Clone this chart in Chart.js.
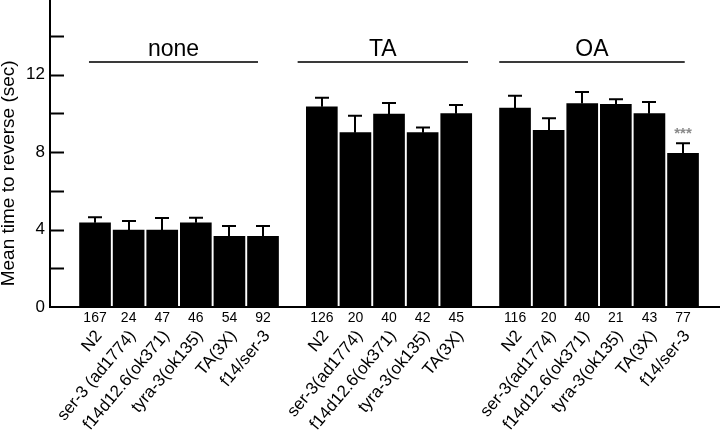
<!DOCTYPE html>
<html>
<head>
<meta charset="utf-8">
<script src="https://cdn.jsdelivr.net/npm/chart.js@4/dist/chart.umd.min.js"></script>
<style>
  html, body { margin: 0; padding: 0; background: #fff; }
  #wrap { width: 720px; height: 443px; }
</style>
</head>
<body>
<div id="wrap"><canvas id="chart" width="720" height="443"></canvas></div>
<script>
// treatment groups and the strains in each
const groups = ['none', 'TA', 'OA'];
const strains = [
    ['N2', 'ser-3 (ad1774)', 'f14d12.6(ok371)', 'tyra-3(ok135)', 'TA(3X)', 'f14/ser-3'],
    ['N2', 'ser-3(ad1774)', 'f14d12.6(ok371)', 'tyra-3(ok135)', 'TA(3X)'],
    ['N2', 'ser-3(ad1774)', 'f14d12.6(ok371)', 'tyra-3(ok135)', 'TA(3X)', 'f14/ser-3'],
];
const counts = [
    [167, 24, 47, 46, 54, 92],
    [126, 20, 40, 42, 45],
    [116, 20, 40, 21, 43, 77],
];
const means = [
    [4.35, 3.97, 3.97, 4.35, 3.65, 3.65],
    [10.34, 9.0, 9.96, 9.0, 9.98],
    [10.27, 9.12, 10.5, 10.46, 9.98, 7.93],
];
const errors = [
    [0.28, 0.47, 0.62, 0.26, 0.53, 0.53],
    [0.46, 0.88, 0.57, 0.27, 0.45],
    [0.64, 0.62, 0.6, 0.26, 0.6, 0.52],
];
const stars = [
    ['', '', '', '', '', ''],
    ['', '', '', '', ''],
    ['', '', '', '', '', '***'],
];
const yLabels = [0, 4, 8, 12];
const yTicks = [0, 2, 4, 6, 8, 10, 12, 14];
const yTitle = 'Mean time to reverse (sec)';

const GROUP_GAP = 0.75;   // extra space between groups, in bar slots
const FONT = '"Liberation Sans", Arial, sans-serif';

// flatten into bar points, with the slot position of each bar
var points = [], meta = [];
var idx = 0;
groups.forEach(function(g, gi) {
    strains[gi].forEach(function(s, si) {
        var x = idx + gi * GROUP_GAP;
        points.push({x: x, y: means[gi][si]});
        meta.push({x: x, name: s, n: counts[gi][si], err: errors[gi][si],
                   star: stars[gi][si], mean: means[gi][si]});
        idx++;
    });
});

const bracketPad = [[-0.18, -0.15], [-0.72, 0.35], [-0.47, 0.05]];

const annotations = {
    id: 'annotations',
    afterDatasetsDraw(chart) {
        const ctx = chart.ctx, xs = chart.scales.x, ys = chart.scales.y;
        const area = chart.chartArea;
        ctx.save();
        ctx.strokeStyle = '#000';
        ctx.fillStyle = '#000';

        // inward y tick marks
        ctx.lineWidth = 2;
        yTicks.forEach(function(v) {
            if (v === 0) return;
            var py = Math.round(ys.getPixelForValue(v)) + 0.5;
            ctx.beginPath();
            ctx.moveTo(area.left, py);
            ctx.lineTo(area.left + 14, py);
            ctx.stroke();
        });

        // y title, sits a bit below the middle of the axis
        ctx.save();
        ctx.translate(9, ys.getPixelForValue(6.9));
        ctx.rotate(-Math.PI / 2);
        ctx.font = '19px ' + FONT;
        ctx.textAlign = 'center';
        ctx.textBaseline = 'middle';
        ctx.fillText(yTitle, 0, 0);
        ctx.restore();

        // error bars (upper half only) and star marks
        meta.forEach(function(m) {
            var px = Math.round(xs.getPixelForValue(m.x));
            var top = ys.getPixelForValue(m.mean + m.err);
            var base = ys.getPixelForValue(m.mean);
            ctx.lineWidth = 2;
            ctx.beginPath();
            ctx.moveTo(px, base);
            ctx.lineTo(px, top);
            ctx.moveTo(px - 7, top);
            ctx.lineTo(px + 7, top);
            ctx.stroke();
            if (m.star) {
                ctx.fillStyle = '#8a8a8a';
                ctx.font = 'bold 15px ' + FONT;
                ctx.textAlign = 'center';
                ctx.textBaseline = 'alphabetic';
                ctx.fillText(m.star, px, top - 5);
                ctx.fillStyle = '#000';
            }
        });

        // n counts and rotated strain names
        var base = area.bottom;
        meta.forEach(function(m) {
            var px = xs.getPixelForValue(m.x);
            ctx.font = '14px ' + FONT;
            ctx.textAlign = 'center';
            ctx.textBaseline = 'middle';
            ctx.fillText(String(m.n), px, base + 11);

            ctx.save();
            ctx.translate(px + 4, base + 26);
            ctx.rotate(-50 * Math.PI / 180);
            ctx.font = '17px ' + FONT;
            ctx.textAlign = 'right';
            ctx.textBaseline = 'middle';
            ctx.fillText(m.name, 0, 0);
            ctx.restore();
        });

        // group brackets with labels
        var first = 0;
        groups.forEach(function(g, gi) {
            var last = first + strains[gi].length - 1;
            var x0 = xs.getPixelForValue(meta[first].x + bracketPad[gi][0]);
            var x1 = xs.getPixelForValue(meta[last].x + bracketPad[gi][1]);
            var ly = 62;
            ctx.strokeStyle = '#3a3a3a';
            ctx.lineWidth = 2;
            ctx.beginPath();
            ctx.moveTo(x0, ly);
            ctx.lineTo(x1, ly);
            ctx.stroke();
            ctx.fillStyle = '#000';
            ctx.font = '23px ' + FONT;
            ctx.textAlign = 'center';
            ctx.textBaseline = 'alphabetic';
            ctx.fillText(g, (x0 + x1) / 2, ly - 6);
            first = last + 1;
        });
        ctx.restore();
    }
};

new Chart(document.getElementById('chart'), {
    type: 'bar',
    data: {
        datasets: [{
            data: points,
            backgroundColor: '#000',
            borderWidth: 0,
            barThickness: 31,
        }],
    },
    options: {
        responsive: false,
        animation: false,
        layout: {padding: 0},
        plugins: {
            legend: {display: false},
            tooltip: {enabled: false},
        },
        scales: {
            x: {
                type: 'linear',
                offset: false,
                min: -1.34,
                max: 18.6,
                grid: {display: false, drawTicks: false},
                ticks: {display: false},
                border: {display: true, color: '#000', width: 2},
                afterFit: function(s) { s.height = 136; },
            },
            y: {
                min: 0,
                max: 15.85,
                afterBuildTicks: function(s) {
                    s.ticks = yTicks.map(function(v) { return {value: v}; });
                },
                grid: {display: false, drawTicks: false},
                border: {display: true, color: '#000', width: 2},
                ticks: {
                    color: '#000',
                    padding: 5,
                    font: {family: FONT, size: 17},
                    callback: function(v) { return yLabels.includes(v) ? String(v) : null; },
                },
                afterFit: function(s) {
                    s.width = 50;
                    s.paddingTop = 0;
                    s.paddingBottom = 0;
                },
            },
        },
    },
    plugins: [annotations],
});
</script>
</body>
</html>
